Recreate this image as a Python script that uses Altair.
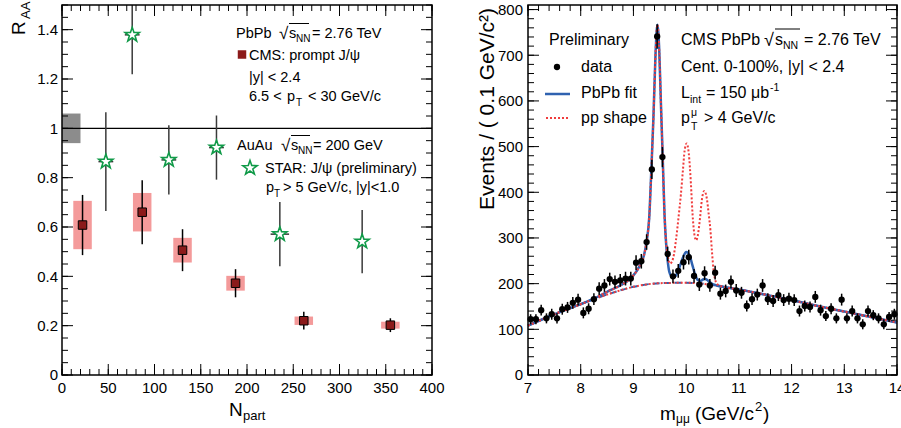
import altair as alt
import pandas as pd

FONT = "Liberation Sans"

# ---------------- left panel : R_AA vs N_part ----------------
cms_npart = [22.2, 86.7, 130.3, 187.6, 261.4, 355.0]
cms_raa = [0.608, 0.660, 0.506, 0.372, 0.220, 0.202]
cms_stat = [0.122, 0.130, 0.085, 0.057, 0.036, 0.028]
cms_syst = [0.098, 0.078, 0.050, 0.030, 0.017, 0.014]
cms_box_halfwidth = [10, 10, 10, 10, 10, 10]

star_npart = [47.4, 75.9, 115.5, 167.0, 235.5, 324.5]
star_raa = [0.865, 1.379, 0.872, 0.922, 0.571, 0.541]
star_err = [0.200, 0.160, 0.140, 0.130, 0.130, 0.128]
star_xerr = [8, 8, 8, 8, 10, 0]

global_unc_npart = [0, 20]
global_unc_raa = [0.94, 1.06]

# ---------------- right panel : dimuon mass spectrum ----------------
mass = [7.05, 7.15, 7.25, 7.35, 7.45, 7.55, 7.65, 7.75, 7.85, 7.95,
        8.05, 8.15, 8.25, 8.35, 8.45, 8.55, 8.65, 8.75, 8.85, 8.95,
        9.05, 9.15, 9.25, 9.35, 9.45, 9.55, 9.65, 9.75, 9.85, 9.95,
        10.05, 10.15, 10.25, 10.35, 10.45, 10.55, 10.65, 10.75, 10.85, 10.95,
        11.05, 11.15, 11.25, 11.35, 11.45, 11.55, 11.65, 11.75, 11.85, 11.95,
        12.05, 12.15, 12.25, 12.35, 12.45, 12.55, 12.65, 12.75, 12.85, 12.95,
        13.05, 13.15, 13.25, 13.35, 13.45, 13.55, 13.65, 13.75, 13.85, 13.95]
events = [122, 122, 142, 124, 133, 124, 144, 148, 158, 165,
          136, 145, 166, 189, 196, 210, 204, 207, 211, 211,
          246, 249, 291, 450, 741, 477, 265, 216, 228, 247,
          258, 217, 198, 223, 196, 224, 178, 184, 204, 185,
          180, 151, 166, 176, 196, 166, 162, 175, 164, 167,
          164, 140, 151, 149, 171, 142, 129, 145, 124, 165,
          124, 140, 124, 111, 140, 131, 124, 111, 127, 133]
events_err = [11, 11, 12, 11, 12, 11, 12, 12, 13, 13,
              12, 12, 13, 14, 14, 14, 14, 14, 15, 15,
              16, 16, 17, 21, 27, 22, 16, 15, 15, 16,
              16, 15, 14, 15, 14, 15, 13, 14, 14, 14,
              13, 12, 13, 13, 14, 13, 13, 13, 13, 13,
              13, 12, 12, 12, 13, 12, 11, 12, 11, 13,
              11, 12, 11, 11, 12, 11, 11, 11, 11, 12]

fit_m = [7.0, 7.5, 8.0, 8.25, 8.5, 8.75, 8.9, 9.0, 9.1, 9.2,
         9.25, 9.3, 9.34, 9.38, 9.42, 9.455, 9.49, 9.52, 9.555, 9.59,
         9.62, 9.65, 9.68, 9.72, 9.76, 9.8, 9.85, 9.9, 9.95, 10.0,
         10.03, 10.07, 10.12, 10.17, 10.22, 10.27, 10.32, 10.36, 10.4, 10.45,
         10.5, 10.55, 10.75, 11.0, 11.5, 12.0, 12.5, 13.0, 13.5, 14.0]
fit_y = [108, 133, 155, 167, 182, 196, 207, 218, 235, 262,
         292, 345, 450, 565, 705, 767, 710, 600, 478, 350,
         288, 250, 226, 216, 214, 217, 228, 245, 260, 269,
         268, 260, 240, 220, 208, 206, 209, 210, 208, 203,
         199, 197, 192, 187, 176, 164, 151, 139, 127, 115]

pp_m = [7.0, 7.5, 8.0, 8.25, 8.5, 8.75, 8.9, 9.0, 9.1, 9.2,
        9.25, 9.3, 9.34, 9.38, 9.42, 9.455, 9.49, 9.52, 9.555, 9.59,
        9.62, 9.65, 9.69, 9.73, 9.77, 9.81, 9.86, 9.9, 9.94, 9.97,
        10.01, 10.05, 10.09, 10.12, 10.16, 10.19, 10.22, 10.26, 10.3, 10.345,
        10.39, 10.43, 10.46, 10.49, 10.52, 10.56, 10.6, 10.75, 11.0, 11.5,
        12.0, 12.5, 13.0, 13.5, 14.0]
pp_y = [108, 133, 155, 167, 182, 196, 207, 218, 235, 262,
        292, 345, 450, 565, 705, 767, 710, 600, 478, 350,
        290, 262, 244, 248, 265, 298, 350, 395, 450, 490,
        507, 485, 420, 355, 305, 295, 305, 340, 385, 403,
        388, 350, 318, 270, 230, 205, 198, 192, 187, 176,
        164, 151, 139, 127, 115]

bkg_m = [7.0, 7.5, 8.0, 8.5, 9.0, 9.5, 10.0, 10.5, 10.75, 11.0,
         11.5, 12.0, 12.5, 13.0, 13.5, 14.0]
bkg_y = [108, 133, 155, 176, 193, 201, 202, 197, 192, 187,
         176, 164, 151, 139, 127, 115]

# ---------------- axis ticks and tick labels ----------------
L_xmaj = [0, 50, 100, 150, 200, 250, 300, 350, 400]
L_xlab = ["0", "50", "100", "150", "200", "250", "300", "350", "400"]
L_xmin = list(range(0, 401, 10))
L_ymaj = [0, 0.2, 0.4, 0.6, 0.8, 1.0, 1.2, 1.4]
L_ylab = ["0", "0.2", "0.4", "0.6", "0.8", "1", "1.2", "1.4"]
L_ymin = [round(i * 0.05, 2) for i in range(31)]
R_xmaj = [7, 8, 9, 10, 11, 12, 13, 14]
R_xlab = ["7", "8", "9", "10", "11", "12", "13", "14"]
R_xmin = [round(7 + 0.2 * i, 1) for i in range(36)]
R_ymaj = [0, 100, 200, 300, 400, 500, 600, 700, 800]
R_ylab = ["0", "100", "200", "300", "400", "500", "600", "700", "800"]
R_ymin = list(range(0, 801, 20))

# ---------------- tables ----------------
cms = pd.DataFrame({"npart": cms_npart, "raa": cms_raa})
cms["lo"] = cms["raa"] - pd.Series(cms_stat)
cms["hi"] = cms["raa"] + pd.Series(cms_stat)
cms["slo"] = cms["raa"] - pd.Series(cms_syst)
cms["shi"] = cms["raa"] + pd.Series(cms_syst)
cms["xlo"] = cms["npart"] - pd.Series(cms_box_halfwidth)
cms["xhi"] = cms["npart"] + pd.Series(cms_box_halfwidth)

star = pd.DataFrame({"npart": star_npart, "raa": star_raa})
star["lo"] = star["raa"] - pd.Series(star_err)
star["hi"] = (star["raa"] + pd.Series(star_err)).clip(upper=1.5)
star["xlo"] = star["npart"] - pd.Series(star_xerr)
star["xhi"] = star["npart"] + pd.Series(star_xerr)

gunc = pd.DataFrame({"x0": [global_unc_npart[0]], "x1": [global_unc_npart[1]],
                     "y0": [global_unc_raa[0]], "y1": [global_unc_raa[1]]})
unity = pd.DataFrame({"r": [1.0]})

hist = pd.DataFrame({"m": mass, "n": events})
hist["lo"] = hist["n"] - pd.Series(events_err)
hist["hi"] = hist["n"] + pd.Series(events_err)
fit = pd.DataFrame({"m": fit_m, "y": fit_y})
pp = pd.DataFrame({"m": pp_m, "y": pp_y})
bkg = pd.DataFrame({"m": bkg_m, "y": bkg_y})

ONE = pd.DataFrame({"k": [0]})

# ---------------- style ----------------
RED_BOX = "#f49a9a"
DARK_RED = "#8b1a1a"
GREEN = "#109a48"
BLUE = "#2f62b0"
RED = "#f03c3c"
STAR_PATH = ("M0,-1L0.235,-0.324L0.951,-0.309L0.38,0.124L0.588,0.809"
             "L0,0.4L-0.588,0.809L-0.38,0.124L-0.951,-0.309L-0.235,-0.324Z")

# panel geometry (pixels in the 901x428 canvas)
L_X0, L_X1 = 62, 432
R_X0, R_X1 = 528, 897
Y_TOP, Y_BOT = 5, 375

xsL = alt.Scale(domain=[0, 400], range=[L_X0, L_X1], nice=False, zero=False)
ysL = alt.Scale(domain=[0, 1.5], range=[Y_BOT, Y_TOP], nice=False, zero=False)
xsR = alt.Scale(domain=[7, 14], range=[R_X0, R_X1], nice=False, zero=False)
ysR = alt.Scale(domain=[0, 810], range=[Y_BOT, Y_TOP], nice=False, zero=False)


def XL(f):
    return alt.X(f, type="quantitative", scale=xsL, axis=None)


def YL(f):
    return alt.Y(f, type="quantitative", scale=ysL, axis=None)


def XR(f):
    return alt.X(f, type="quantitative", scale=xsR, axis=None)


def YR(f):
    return alt.Y(f, type="quantitative", scale=ysR, axis=None)


def txt(x, y, s, size=14.5, angle=0, align="left"):
    return alt.Chart(ONE).mark_text(
        text=s, font=FONT, fontSize=size, align=align, baseline="alphabetic",
        angle=angle, color="black"
    ).encode(x=alt.value(x), y=alt.value(y))


def seg(x1, x2, y, color="black", width=1.0, dash=None):
    kw = dict(color=color, strokeWidth=width)
    if dash:
        kw["strokeDash"] = dash
    return alt.Chart(ONE).mark_rule(**kw).encode(
        x=alt.value(x1), x2=alt.value(x2), y=alt.value(y))


def frame_and_ticks(XF, YF, x0, x1, xmaj, xlab, xmin, ymaj, ylab, ymin, ylab_x):
    out = []
    for vals, ln in ((xmaj, 11), (xmin, 6)):
        d = pd.DataFrame({"v": vals})
        out.append(alt.Chart(d).mark_rule(color="black", strokeWidth=1).encode(
            x=XF("v"), y=alt.value(Y_BOT - ln), y2=alt.value(Y_BOT)))
        out.append(alt.Chart(d).mark_rule(color="black", strokeWidth=1).encode(
            x=XF("v"), y=alt.value(Y_TOP), y2=alt.value(Y_TOP + ln)))
    for vals, ln in ((ymaj, 11), (ymin, 6)):
        d = pd.DataFrame({"v": vals})
        out.append(alt.Chart(d).mark_rule(color="black", strokeWidth=1).encode(
            y=YF("v"), x=alt.value(x0), x2=alt.value(x0 + ln)))
        out.append(alt.Chart(d).mark_rule(color="black", strokeWidth=1).encode(
            y=YF("v"), x=alt.value(x1 - ln), x2=alt.value(x1)))
    out.append(alt.Chart(pd.DataFrame({"v": xmaj, "lab": xlab})).mark_text(
        font=FONT, fontSize=15, align="center", baseline="alphabetic", color="black"
    ).encode(x=XF("v"), y=alt.value(393), text="lab:N"))
    out.append(alt.Chart(pd.DataFrame({"v": ymaj, "lab": ylab})).mark_text(
        font=FONT, fontSize=15, align="right", baseline="alphabetic", dy=5.4,
        color="black"
    ).encode(y=YF("v"), x=alt.value(ylab_x), text="lab:N"))
    out.append(alt.Chart(ONE).mark_rect(filled=False, color="black", strokeWidth=1.5).encode(
        x=alt.value(x0), x2=alt.value(x1), y=alt.value(Y_TOP), y2=alt.value(Y_BOT)))
    return out


layers = [
    # ----- left panel data -----
    alt.Chart(cms).mark_rect(color=RED_BOX, opacity=1).encode(
        x=XL("xlo"), x2="xhi", y=YL("slo"), y2="shi"),
    alt.Chart(gunc).mark_rect(color="#8c8c8c", opacity=1).encode(
        x=XL("x0"), x2="x1", y=YL("y0"), y2="y1"),
    alt.Chart(unity).mark_rule(color="black", strokeWidth=1.3).encode(
        y=YL("r"), x=alt.value(L_X0), x2=alt.value(L_X1)),
    alt.Chart(star).mark_rule(color="#3a3a3a", strokeWidth=1.5).encode(
        x=XL("npart"), y=YL("lo"), y2="hi"),
    alt.Chart(star).mark_rule(color="#3a3a3a", strokeWidth=1.5).encode(
        x=XL("xlo"), x2="xhi", y=YL("raa")),
    alt.Chart(star).mark_point(shape=STAR_PATH, size=225, filled=True, fill="white",
                               stroke=GREEN, strokeWidth=1.6, opacity=1).encode(
        x=XL("npart"), y=YL("raa")),
    alt.Chart(cms).mark_rule(color="black", strokeWidth=1.5).encode(
        x=XL("npart"), y=YL("lo"), y2="hi"),
    alt.Chart(cms).mark_square(size=72, fill=DARK_RED, stroke="black",
                               strokeWidth=1, opacity=1, filled=True).encode(
        x=XL("npart"), y=YL("raa")),
    # ----- right panel data -----
    alt.Chart(bkg).mark_line(color=BLUE, strokeWidth=2, strokeDash=[7, 4],
                             interpolate="monotone").encode(x=XR("m"), y=YR("y")),
    alt.Chart(bkg).mark_line(color=RED, strokeWidth=2, strokeDash=[2, 2],
                             interpolate="monotone").encode(x=XR("m"), y=YR("y")),
    alt.Chart(fit).mark_line(color=BLUE, strokeWidth=2.5,
                             interpolate="monotone").encode(x=XR("m"), y=YR("y")),
    alt.Chart(pp).mark_line(color=RED, strokeWidth=2, strokeDash=[2, 2],
                            interpolate="monotone").encode(x=XR("m"), y=YR("y")),
    alt.Chart(hist).mark_rule(color="black", strokeWidth=1.5).encode(
        x=XR("m"), y=YR("lo"), y2="hi"),
    alt.Chart(hist).mark_circle(size=40, color="black", opacity=1).encode(
        x=XR("m"), y=YR("n")),
]

layers += frame_and_ticks(XL, YL, L_X0, L_X1, L_xmaj, L_xlab, L_xmin,
                          L_ymaj, L_ylab, L_ymin, 58)
layers += frame_and_ticks(XR, YR, R_X0, R_X1, R_xmaj, R_xlab, R_xmin,
                          R_ymaj, R_ylab, R_ymin, 523)

# ----- left panel annotations -----
layers += [
    txt(236, 38, "PbPb"),
    txt(279, 39, "√", size=17),
    seg(289, 309, 23.5),
    txt(289, 38, "s"),
    txt(296, 42, "NN", size=10),
    txt(312, 38, "= 2.76 TeV"),
    alt.Chart(ONE).mark_square(size=72, fill=DARK_RED, opacity=1, filled=True).encode(
        x=alt.value(242), y=alt.value(54.5)),
    txt(249, 60, "CMS: prompt J/ψ"),
    txt(249, 82, "|y| < 2.4"),
    txt(249, 101, "6.5 <"),
    txt(287, 101, "p"),
    txt(296, 106, "T", size=10),
    txt(308, 101, "< 30 GeV/c"),
    txt(237, 150, "AuAu"),
    txt(281, 151, "√", size=17),
    seg(291, 310, 135.5),
    txt(291, 150, "s"),
    txt(298, 154, "NN", size=10),
    txt(313, 150, "= 200 GeV"),
    alt.Chart(ONE).mark_point(shape=STAR_PATH, size=225, filled=True, fill="white",
                              stroke=GREEN, strokeWidth=1.6, opacity=1).encode(
        x=alt.value(250), y=alt.value(168)),
    txt(265, 173, "STAR: J/ψ (preliminary)"),
    txt(266, 192, "p"),
    txt(274, 197, "T", size=10),
    txt(283, 192, "> 5 GeV/c, |y|<1.0"),
    txt(229, 416, "N", size=19),
    txt(243, 420, "part", size=13),
    txt(25, 35, "R", size=19, angle=270),
    txt(30, 19, "AA", size=13, angle=270),
]

# ----- right panel annotations -----
layers += [
    txt(549, 45, "Preliminary", size=16),
    alt.Chart(ONE).mark_circle(size=40, color="black", opacity=1).encode(
        x=alt.value(557), y=alt.value(67)),
    txt(581, 72, "data", size=16),
    seg(545, 570, 94, color=BLUE, width=2.5),
    txt(581, 98, "PbPb fit", size=16),
    seg(546, 570, 118, color=RED, width=2, dash=[2, 2]),
    txt(581, 123, "pp shape", size=16),
    txt(681, 45, "CMS PbPb", size=16),
    txt(764, 46, "√", size=18),
    seg(775, 800, 29),
    txt(775, 45, "s", size=16),
    txt(783, 49, "NN", size=10.5),
    txt(804, 45, "= 2.76 TeV", size=16),
    txt(681, 72, "Cent. 0-100%, |y| < 2.4", size=16),
    txt(681, 98, "L", size=16),
    txt(690, 103, "int", size=10.5),
    txt(706, 98, "= 150 μb", size=16),
    txt(770, 91, "-1", size=10.5),
    txt(681, 123, "p", size=16),
    txt(691, 116, "μ", size=10.5),
    txt(691, 130, "T", size=10.5),
    txt(704, 123, "> 4 GeV/c", size=16),
    txt(494, 8, "Events / ( 0.1 GeV/c²)", size=21, angle=270, align="right"),
    txt(660, 420, "m", size=19),
    txt(676, 423, "μμ", size=12),
    txt(695, 420, "(GeV/c", size=19),
    txt(755, 411, "2", size=13),
    txt(763, 420, ")", size=19),
]

chart = alt.layer(*layers).resolve_scale(
    x="independent", y="independent"
).properties(
    width=901, height=428,
    autosize=alt.AutoSizeParams(type="none"),
    padding=0,
).configure_view(strokeOpacity=0)

chart.save("out.html", embed_options={"renderer": "svg", "actions": False})
